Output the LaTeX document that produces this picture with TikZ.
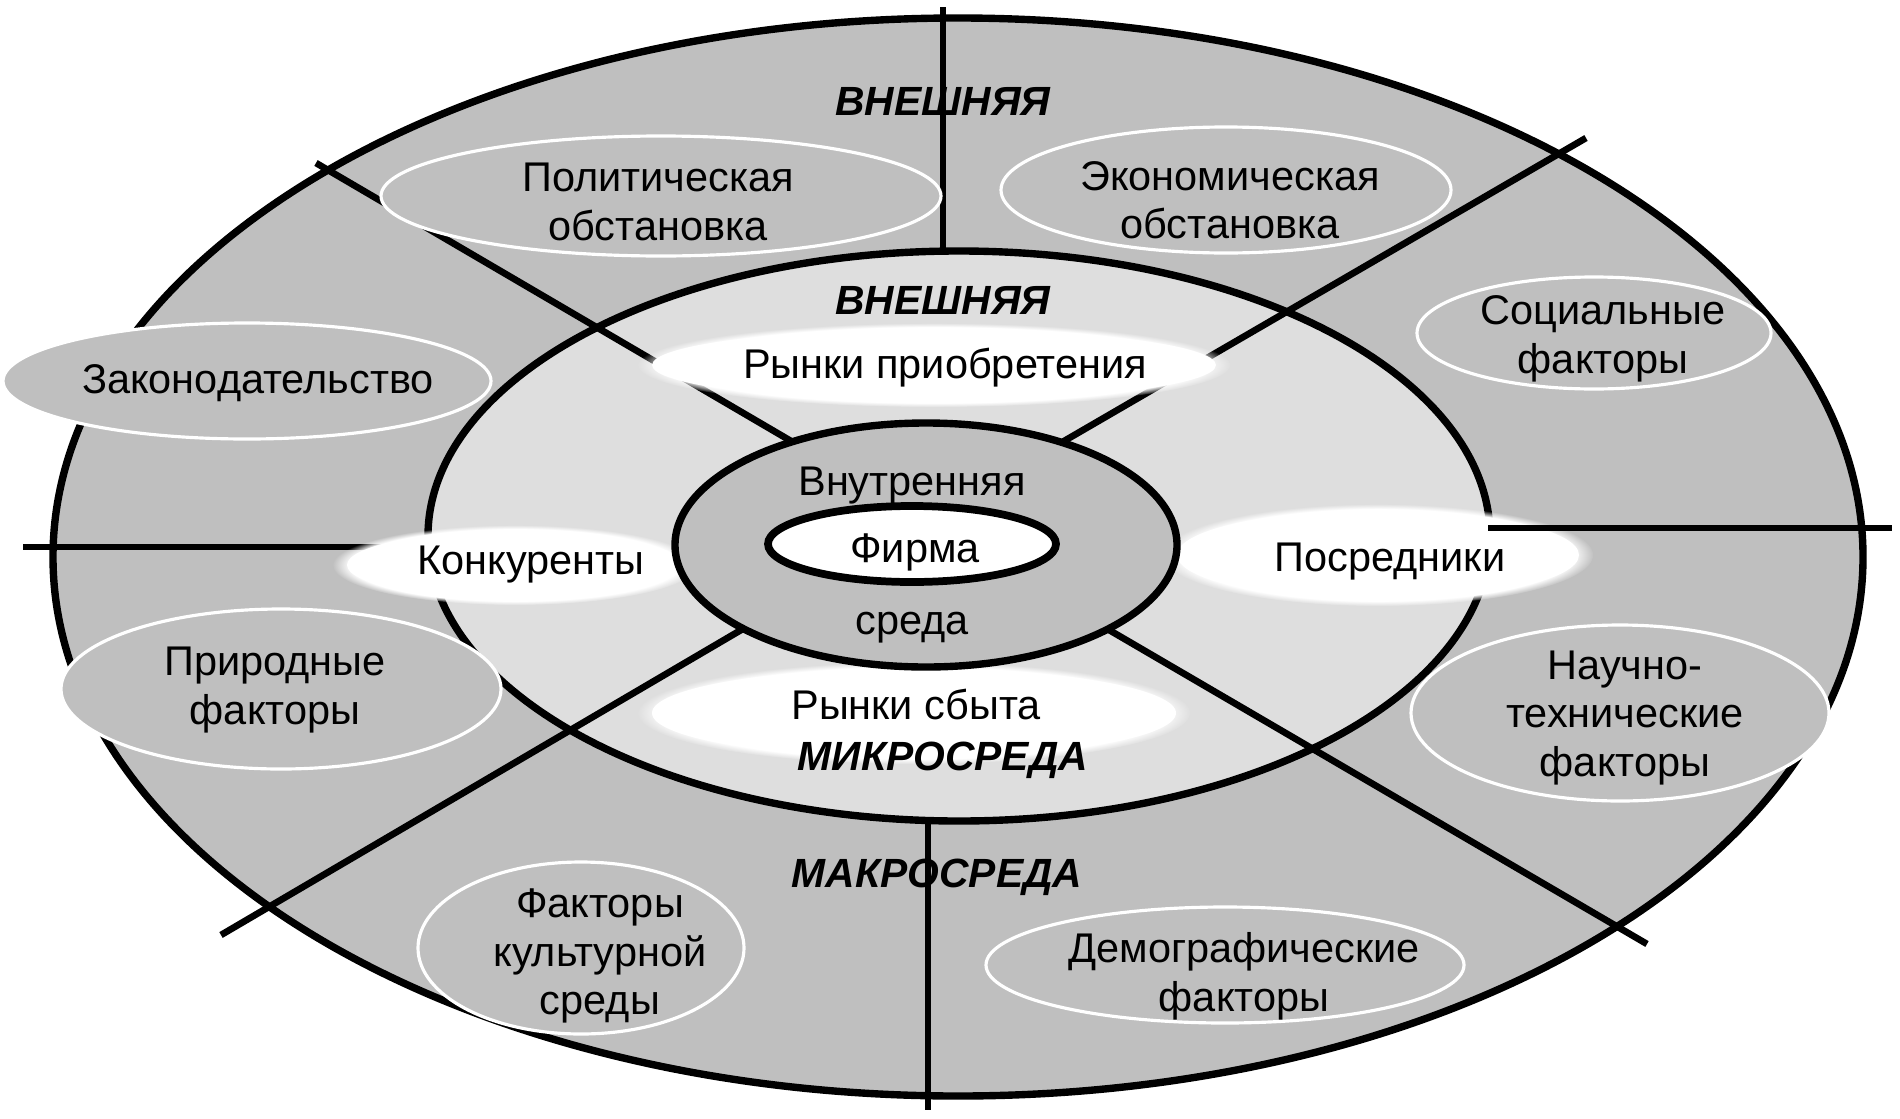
\documentclass[tikz,border=0pt]{standalone}
\usepackage{fontspec}
\setmainfont{Liberation Sans}
\usetikzlibrary{fadings}

\definecolor{ringgray}{gray}{0.75}
\definecolor{ringlight}{gray}{0.87}

\begin{document}
\begin{tikzpicture}[
  x=0.01cm, y=-0.01cm,
  every node/.style={font=\fontsize{11.8}{13.8}\selectfont},
  zone/.style={fill=#1, draw=black, line width=2.1pt},
  rim/.style={draw=black, line width=2.1pt},
  factorell/.style={fill=ringgray, draw=white, line width=0.9pt},
  softhalo/.style={fill=white, path fading=circle with fuzzy edge 10 percent},
  softcore/.style={fill=white},
  divline/.style={draw=black, line width=1.9pt},
  txt/.style={align=center, inner sep=0pt},
  zonetitle/.style={inner sep=0pt, font=\fontsize{11.6}{14}\selectfont\bfseries\itshape}]

\useasboundingbox (0,0) rectangle (1900,1118);

%% rings (macro / micro)
\fill[ringgray]  (958,557) ellipse (905 and 539);
\fill[ringlight] (959,536) ellipse (531 and 285);

%% dividers between the factors
\draw[divline] (943,7)    -- (943,248);
\draw[divline] (928,820)  -- (928,1110);
\draw[divline] (23,547)   -- (440,547);
\draw[divline] (316,163)  -- (820,458);
\draw[divline] (1586,138) -- (1040,455);
\draw[divline] (221,935)  -- (770,613);
\draw[divline] (1647,944) -- (1080,613);

\draw[rim] (958,557) ellipse (905 and 539);
\draw[rim] (959,536) ellipse (531 and 285);

%% macro factors
\foreach \cx/\cy/\rx/\ry in {661/196/280/60, 1226/190/225/63, 1594/333/177/56,
    247/381/244/58, 281/689/220/80, 1620/713/209/88, 581/948/163/86, 1225/965/239/58}
  \filldraw[factorell] (\cx,\cy) ellipse [x radius=\rx, y radius=\ry];

%% micro factors (white, soft rim)
\foreach \cx/\cy/\rx/\ry in {934/365/286/38, 914/713/266/47, 515/565/172/36, 1378/555/205/47} {
  \fill[softhalo] (\cx,\cy) ellipse [x radius=\rx+10, y radius=\ry+4];
  \fill[softcore] (\cx,\cy) ellipse [x radius=\rx-4, y radius=\ry-2];
}

\draw[divline] (1488,528) -- (1892,528);

%% internal environment and the firm
\filldraw[zone=ringgray] (926,545) ellipse (251 and 122);
\filldraw[zone=white, line width=2.2pt] (912,544) ellipse (144 and 38);

%% texts
\node[zonetitle] (macrotop) at (943,101) {ВНЕШНЯЯ};
\node[zonetitle] (microtop) at (943,300) {ВНЕШНЯЯ};
\node[zonetitle] (micro)    at (943,760) {МИКРОСРЕДА};
\node[zonetitle] (macro)    at (937,877) {МАКРОСРЕДА};

\node[txt] (pol)  at (658,202)  {Политическая\\обстановка};
\node[txt] (eco)  at (1230,200) {Экономическая\\обстановка};
\node[txt] (soc)  at (1603,339) {Социальные\\факторы};
\node[txt] (zak)  at (258,383)  {Законодательство};
\node[txt] (pri)  at (275,690)  {Природные\\факторы};
\node[txt] (nau)  at (1625,718) {Научно-\\технические\\факторы};
\node[txt] (kul)  at (600,956)  {Факторы\\культурной\\среды};
\node[txt] (dem)  at (1244,976) {Демографические\\факторы};

\node[txt] (prio) at (945,368)  {Рынки приобретения};
\node[txt] (sbyt) at (916,704)  {Рынки сбыта};
\node[txt] (konk) at (531,565)  {Конкуренты};
\node[txt] (posr) at (1390,562) {Посредники};

\node[txt] (inner1) at (912,486) {Внутренняя};
\node[txt] (firm)   at (915,552) {Фирма};
\node[txt] (inner2) at (912,628) {среда};
\end{tikzpicture}
\end{document}
